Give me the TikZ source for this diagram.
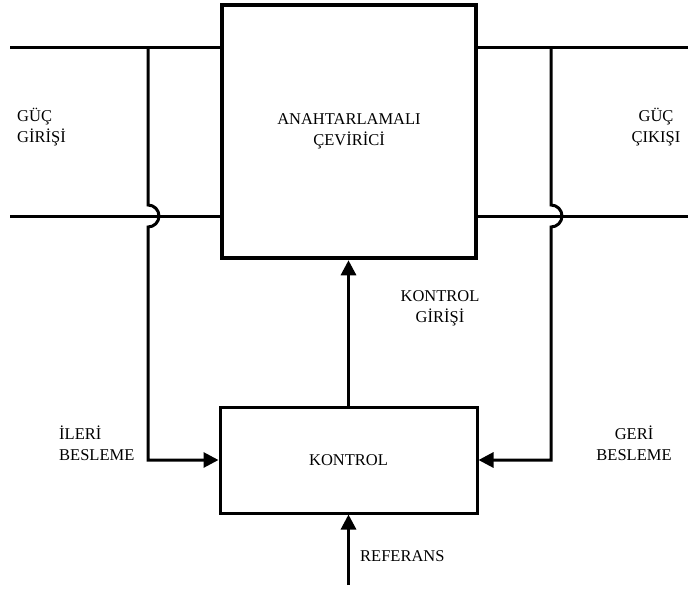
\documentclass[tikz,border=0pt]{standalone}
\usepackage{fontspec}
\setmainfont{Liberation Serif}
\usetikzlibrary{arrows.meta}
\tikzset{
  wire/.style={line width=3pt, line cap=butt},
  flow/.style={wire, -{Triangle[length=15pt,width=15pt]}},
  blockbox/.style={draw, rectangle, inner sep=0pt, font=\fontsize{16.5}{21}\selectfont, align=center},
  lbl/.style={inner sep=0pt, font=\fontsize{16.5}{21}\selectfont}
}
\begin{document}
\begin{tikzpicture}[x=1pt, y=-1pt]
    \useasboundingbox (0,0) rectangle (688,590);
    % switching converter
    \node[blockbox, line width=4.5pt, minimum width=254pt, minimum height=253pt] (conv) at (349,131.5)
        {ANAHTARLAMALI\\ÇEVİRİCİ};
    % control block
    \node[blockbox, line width=3pt, minimum width=257pt, minimum height=106pt] (ctrl) at (348.5,460)
        {KONTROL};
    % power lines, input side
    \coordinate (inTop) at (10,47);
    \coordinate (inBot) at (10,216);
    \draw[wire] (inTop) -- (inTop -| conv.west);
    \draw[wire] (inBot) -- (inBot -| conv.west);
    % power lines, output side
    \coordinate (outTop) at (688,47);
    \coordinate (outBot) at (688,216);
    \draw[wire] (conv.east |- outTop) -- (outTop);
    \draw[wire] (conv.east |- outBot) -- (outBot);
    % feed forward, with hop over the lower line
    \coordinate (ffTop) at (148,47);
    \draw[flow] (ffTop) -- (148,205) arc[start angle=90, end angle=-90, radius=11pt]
        -- (ffTop |- ctrl.west) -- (ctrl.west);
    % feedback, with hop over the lower line
    \coordinate (fbTop) at (551,47);
    \draw[flow] (fbTop) -- (551,205) arc[start angle=90, end angle=-90, radius=11pt]
        -- (fbTop |- ctrl.east) -- (ctrl.east);
    % control input
    \draw[flow] (ctrl.north) -- (ctrl.north |- conv.south);
    % reference
    \coordinate (ref) at (348.5,585);
    \draw[flow] (ref) -- (ctrl.south);
    % labels
    \node[lbl, anchor=west, align=left] (pin) at (17,127) {GÜÇ\\GİRİŞİ};
    \node[lbl, align=center] (pout) at (656,127) {GÜÇ\\ÇIKIŞI};
    \node[lbl, align=center] (cin) at (440,308) {KONTROL\\GİRİŞİ};
    \node[lbl, anchor=west, align=left] (ff) at (59,443) {İLERİ\\BESLEME};
    \node[lbl, align=center] (fb) at (634,443) {GERİ\\BESLEME};
    \node[lbl, anchor=west] (reflbl) at (360,556) {REFERANS};
\end{tikzpicture}
\end{document}
